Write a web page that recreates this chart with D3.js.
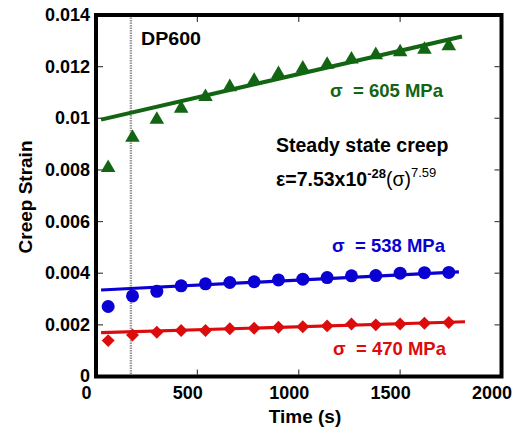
<!DOCTYPE html>
<html>
<head>
<meta charset="utf-8">
<script src="https://cdn.jsdelivr.net/npm/d3@7"></script>
<style>
  html, body { margin: 0; padding: 0; background: #fff; }
  svg { display: block; font-family: "Liberation Sans", Arial, Helvetica, sans-serif; }
</style>
</head>
<body>
<svg id="chart" width="525" height="436"></svg>
<script>
// Creep strain of DP600 at three stress levels
const times = [60, 180, 300, 420, 540, 660, 780, 900, 1020, 1140, 1260, 1380, 1500, 1620, 1740];
const strain605 = [0.00812, 0.00929, 0.00999, 0.01042, 0.01087, 0.01125, 0.0115, 0.01176, 0.01197, 0.01212, 0.01232, 0.01249, 0.0126, 0.0127, 0.01284];
const strain538 = [0.00271, 0.00312, 0.0033, 0.00351, 0.00359, 0.00364, 0.00367, 0.00374, 0.00377, 0.00383, 0.0039, 0.00391, 0.004, 0.00402, 0.00403];
const strain470 = [0.00139, 0.00161, 0.00171, 0.00178, 0.00178, 0.00185, 0.00187, 0.00191, 0.00193, 0.00196, 0.00203, 0.002, 0.00203, 0.00206, 0.00209];

// steady-state fit lines: [start, end] times and strains
const fit605 = { t: [25, 1805], e: [0.00995, 0.01317] };
const fit538 = { t: [25, 1790], e: [0.00335, 0.00405] };
const fit470 = { t: [25, 1820], e: [0.0017, 0.00212] };

const xTicks = [0, 500, 1000, 1500, 2000];
const yTicks = [0, 0.002, 0.004, 0.006, 0.008, 0.01, 0.012, 0.014];
const markerTime = 172; // vertical reference line

const svg = d3.select("#chart");
const plotL = 96, plotR = 501.5, plotT = 15, plotB = 376.5;

const x = d3.scaleLinear().domain([0, 2000]).range([plotL, plotR]);
const y = d3.scaleLinear().domain([0, 0.014]).range([plotB, plotT]);

const green = "#126512", blue = "#0a00d2", red = "#dc0c0c";

// tick marks on all four sides, pointing inward
const tickLen = 5;
const innerX = xTicks.slice(1, -1);
const innerY = yTicks.slice(1, -1);
const ticks = svg.append("g").attr("stroke", "#444").attr("stroke-width", 1.2);
ticks.selectAll(".tb").data(innerX).join("line")
  .attr("x1", d => x(d)).attr("x2", d => x(d))
  .attr("y1", plotB - 2).attr("y2", plotB - 2 - tickLen);
ticks.selectAll(".tt").data(innerX).join("line")
  .attr("x1", d => x(d)).attr("x2", d => x(d))
  .attr("y1", plotT + 2).attr("y2", plotT + 2 + tickLen);
ticks.selectAll(".tl").data(innerY).join("line")
  .attr("x1", plotL + 2).attr("x2", plotL + 2 + tickLen)
  .attr("y1", d => y(d)).attr("y2", d => y(d));
ticks.selectAll(".tr").data(innerY).join("line")
  .attr("x1", plotR - 2).attr("x2", plotR - 2 - tickLen)
  .attr("y1", d => y(d)).attr("y2", d => y(d));

// tick labels
svg.append("g").selectAll("text").data(xTicks).join("text")
  .attr("x", d => x(d) - 9.5).attr("y", 399)
  .attr("text-anchor", "middle")
  .attr("font-size", 18).attr("font-weight", "bold")
  .text(d => d3.format("d")(d));

svg.append("g").selectAll("text").data(yTicks).join("text")
  .attr("x", 90).attr("y", d => y(d)).attr("dy", "0.33em")
  .attr("text-anchor", "end")
  .attr("font-size", 18).attr("font-weight", "bold")
  .text(d => d === 0 ? "0" : String(+d.toFixed(3)));

// vertical dotted reference line
svg.append("line")
  .attr("x1", x(markerTime)).attr("x2", x(markerTime))
  .attr("y1", plotT).attr("y2", plotB)
  .attr("stroke", "#999").attr("stroke-width", 2.4)
  .attr("stroke-dasharray", "1.5,1");

// fit lines
function fitLine(fit, color, w) {
  svg.append("line")
    .attr("x1", x(fit.t[0])).attr("y1", y(fit.e[0]))
    .attr("x2", x(fit.t[1])).attr("y2", y(fit.e[1]))
    .attr("stroke", color).attr("stroke-width", w);
}
fitLine(fit605, green, 4);
fitLine(fit538, blue, 3.2);
fitLine(fit470, red, 3.2);

// markers
const tri = d3.symbol().type(d3.symbolTriangle).size(92);
svg.append("g").selectAll("path").data(times.map((t, i) => [t, strain605[i]])).join("path")
  .attr("d", tri)
  .attr("transform", d => `translate(${x(d[0])},${y(d[1]) + 1})`)
  .attr("fill", green);

svg.append("g").selectAll("circle").data(times.map((t, i) => [t, strain538[i]])).join("circle")
  .attr("cx", d => x(d[0])).attr("cy", d => y(d[1])).attr("r", 6.5)
  .attr("fill", blue);

const dia = d3.symbol().type(d3.symbolSquare).size(84);
svg.append("g").selectAll("path").data(times.map((t, i) => [t, strain470[i]])).join("path")
  .attr("d", dia)
  .attr("transform", d => `translate(${x(d[0])},${y(d[1])}) rotate(45)`)
  .attr("fill", red);

// frame
svg.append("rect")
  .attr("x", plotL).attr("y", plotT)
  .attr("width", plotR - plotL).attr("height", plotB - plotT)
  .attr("fill", "none").attr("stroke", "#000").attr("stroke-width", 4);

// axis titles
svg.append("text")
  .attr("x", 305).attr("y", 423).attr("text-anchor", "middle")
  .attr("font-size", 19).attr("font-weight", "bold")
  .text("Time (s)");
svg.append("text")
  .attr("transform", "translate(32,197) rotate(-90)")
  .attr("text-anchor", "middle")
  .attr("font-size", 19).attr("font-weight", "bold")
  .text("Creep Strain");

// annotations
svg.append("text").attr("x", 141).attr("y", 45)
  .attr("font-size", 18).attr("font-weight", "bold")
  .attr("textLength", 60).attr("lengthAdjust", "spacingAndGlyphs")
  .text("DP600");

function stressLabel(xp, yp, color, txt) {
  svg.append("text").attr("x", xp).attr("y", yp)
    .attr("font-size", 18.5).attr("font-weight", "bold").attr("fill", color)
    .attr("xml:space", "preserve")
    .text(txt);
}
stressLabel(330, 97, green, "\u03c3  = 605 MPa");
stressLabel(332, 252, blue, "\u03c3  = 538 MPa");
stressLabel(333, 355, red, "\u03c3  = 470 MPa");

svg.append("text").attr("x", 276).attr("y", 152)
  .attr("font-size", 19.5).attr("font-weight", "bold").text("Steady state creep");

const eq = svg.append("text").attr("x", 276).attr("y", 186)
  .attr("font-size", 19.5).attr("font-weight", "bold");
eq.append("tspan").text("\u03b5=7.53x10");
eq.append("tspan").attr("dy", -8).attr("font-size", 13).text("-28");
eq.append("tspan").attr("dy", 8).attr("font-weight", "normal").text("(\u03c3)");
eq.append("tspan").attr("dy", -9).attr("font-size", 13).attr("font-weight", "normal").text("7.59");
</script>
</body>
</html>
